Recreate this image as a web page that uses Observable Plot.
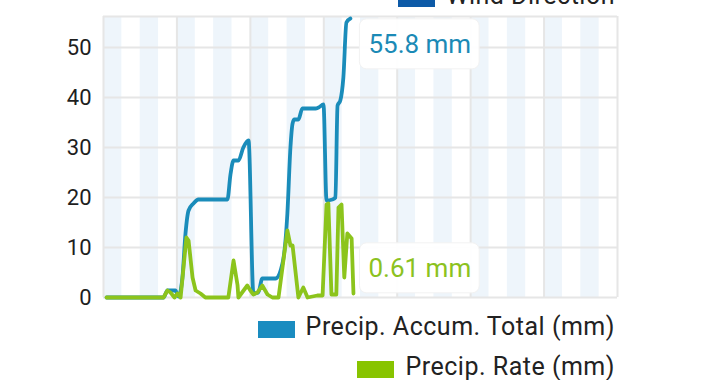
<!DOCTYPE html>
<html>
<head>
<meta charset="utf-8">
<script src="https://cdn.jsdelivr.net/npm/d3@7"></script>
<script src="https://cdn.jsdelivr.net/npm/@observablehq/plot@0.6"></script>
<style>
  html, body { margin: 0; padding: 0; background: #fff; }
  body { width: 720px; height: 380px; overflow: hidden; position: relative; font-family: Roboto, "Noto Sans", sans-serif; }
  #chart { position: absolute; left: 0; top: 0; }
  .legend-row { position: absolute; right: 105px; display: flex; align-items: center; gap: 11px; font-size: 25px; letter-spacing: 0.5px; line-height: 26px; color: #222; white-space: nowrap; }
  .sw { width: 37px; height: 17px; display: inline-block; margin-top: 4px; }
</style>
</head>
<body>
<div id="chart"></div>
<div class="legend-row" style="top:-17px"><span class="sw" style="background:#0d5aa7"></span><span>Wind Direction</span></div>
<div class="legend-row" style="top:314px"><span class="sw" style="background:#1a8cc0"></span><span>Precip. Accum. Total (mm)</span></div>
<div class="legend-row" style="top:354px"><span class="sw" style="background:#88c400"></span><span>Precip. Rate (mm)</span></div>
<script>
// hours since start of the 7-day window
const accumHours = [1.0,19.6,20.9,23.5,24.5,25.8,26.8,27.8,29.4,31.0,40.5,41.5,42.5,44.1,45.7,47.4,49.0,50.6,51.9,56.2,58.5,60.1,61.1,61.8,62.4,63.7,65.0,69.3,70.3,71.9,72.9,74.8,75.8,76.5,77.4,78.4,79.4,80.7];
const accumValues = [0,0,1.4,1.4,0.2,4,12.8,17.4,18.8,19.6,19.6,24.6,27.4,27.4,30,31.4,0.8,1,3.8,3.8,6.8,16.8,30,34.8,35.6,35.6,37.8,37.8,38,38.6,19.4,19.6,20,38.4,39.4,44,55,55.8];
const rateHours = [1.0,19.6,20.9,21.9,23.2,24.2,25.2,27.1,27.8,29.1,30.1,31.7,33.3,40.8,42.5,43.8,44.1,47.0,48.0,49.0,50.3,51.9,53.6,55.2,57.2,60.1,61.1,61.8,63.7,65.3,66.7,69.9,71.6,72.9,73.5,74.5,76.1,76.8,77.8,78.7,79.7,81.1,81.7];
const rateValues = [0,0,1.4,1.0,0,0.8,0,12,11.4,4,1.4,0.8,0,0,7.4,2.5,0,2.4,1.4,0.6,1,2.4,0.6,0,0,13.4,10.4,10.4,0,2,0,0.4,0.4,18.6,18.8,0.6,0.6,18,18.6,4,12.8,11.8,0.8];
const yTicks = [0,10,20,30,40,50];
const dayTicks = [0,24,48,72,96,120,144,168];
const accumLabel = "55.8 mm";
const rateLabel = "0.61 mm";

const accum = accumHours.map((h,i)=>({h, v: accumValues[i]}));
const rate = rateHours.map((h,i)=>({h, v: rateValues[i]}));
const stripes = d3.range(0,168,12).map(s=>({s, e: s+6}));

const BLUE = "#1a8cba", GREEN = "#8cc41c", GRID = "#e6e6e6";

const chart = Plot.plot({
  width: 720, height: 310,
  marginLeft: 103, marginRight: 103, marginTop: 16, marginBottom: 13,
  x: {domain: [0,168], axis: null},
  y: {domain: [0,56.2], axis: null},
  style: {fontFamily: "Roboto, sans-serif"},
  marks: [
    Plot.rectY(stripes, {x1:"s", x2:"e", y1:0, y2:56.2, fill:"#eef5fb"}),
    Plot.gridX(dayTicks, {stroke: GRID, strokeOpacity: 1, strokeWidth: 2}),
    Plot.gridY(yTicks, {stroke: GRID, strokeOpacity: 1, strokeWidth: 2}),
    Plot.ruleY([56.2], {stroke: GRID, strokeWidth: 2}),
    Plot.axisY(yTicks, {tickSize: 0, tickPadding: 12, fontSize: 22, fill: "#1e1e1e", textAnchor: "end", label: null}),
    Plot.line(accum, {x:"h", y:"v", stroke: BLUE, strokeWidth: 3.8, curve: "monotone-x"}),
    Plot.line(rate, {x:"h", y:"v", stroke: GREEN, strokeWidth: 3.8}),
    Plot.text([accum[accum.length-1]], {x:"h", y:"v", text: ()=>accumLabel, dx: 18, dy: 26, textAnchor:"start", fontSize: 26, fill: "#1b8ab6", className: "vlabel"}),
    Plot.text([rate[rate.length-1]], {x:"h", y:"v", text: ()=>rateLabel, dx: 15, dy: -25, textAnchor:"start", fontSize: 26, fill: "#8cc21f", className: "vlabel"})
  ]
});
document.getElementById("chart").appendChild(chart);

// white rounded boxes behind the value labels
chart.querySelectorAll("g.vlabel text").forEach(t => {
  const b = t.getBBox();
  const r = document.createElementNS("http://www.w3.org/2000/svg","rect");
  r.setAttribute("x", b.x - 9); r.setAttribute("y", b.y - 10);
  r.setAttribute("width", b.width + 17); r.setAttribute("height", b.height + 20);
  r.setAttribute("rx", 7); r.setAttribute("fill", "#fff"); r.setAttribute("fill-opacity", 0.95);
  r.setAttribute("stroke", "#f2f2f2");
  const tr = t.getAttribute("transform");
  if (tr) r.setAttribute("transform", tr);
  t.parentNode.insertBefore(r, t);
});
</script>
</body>
</html>
